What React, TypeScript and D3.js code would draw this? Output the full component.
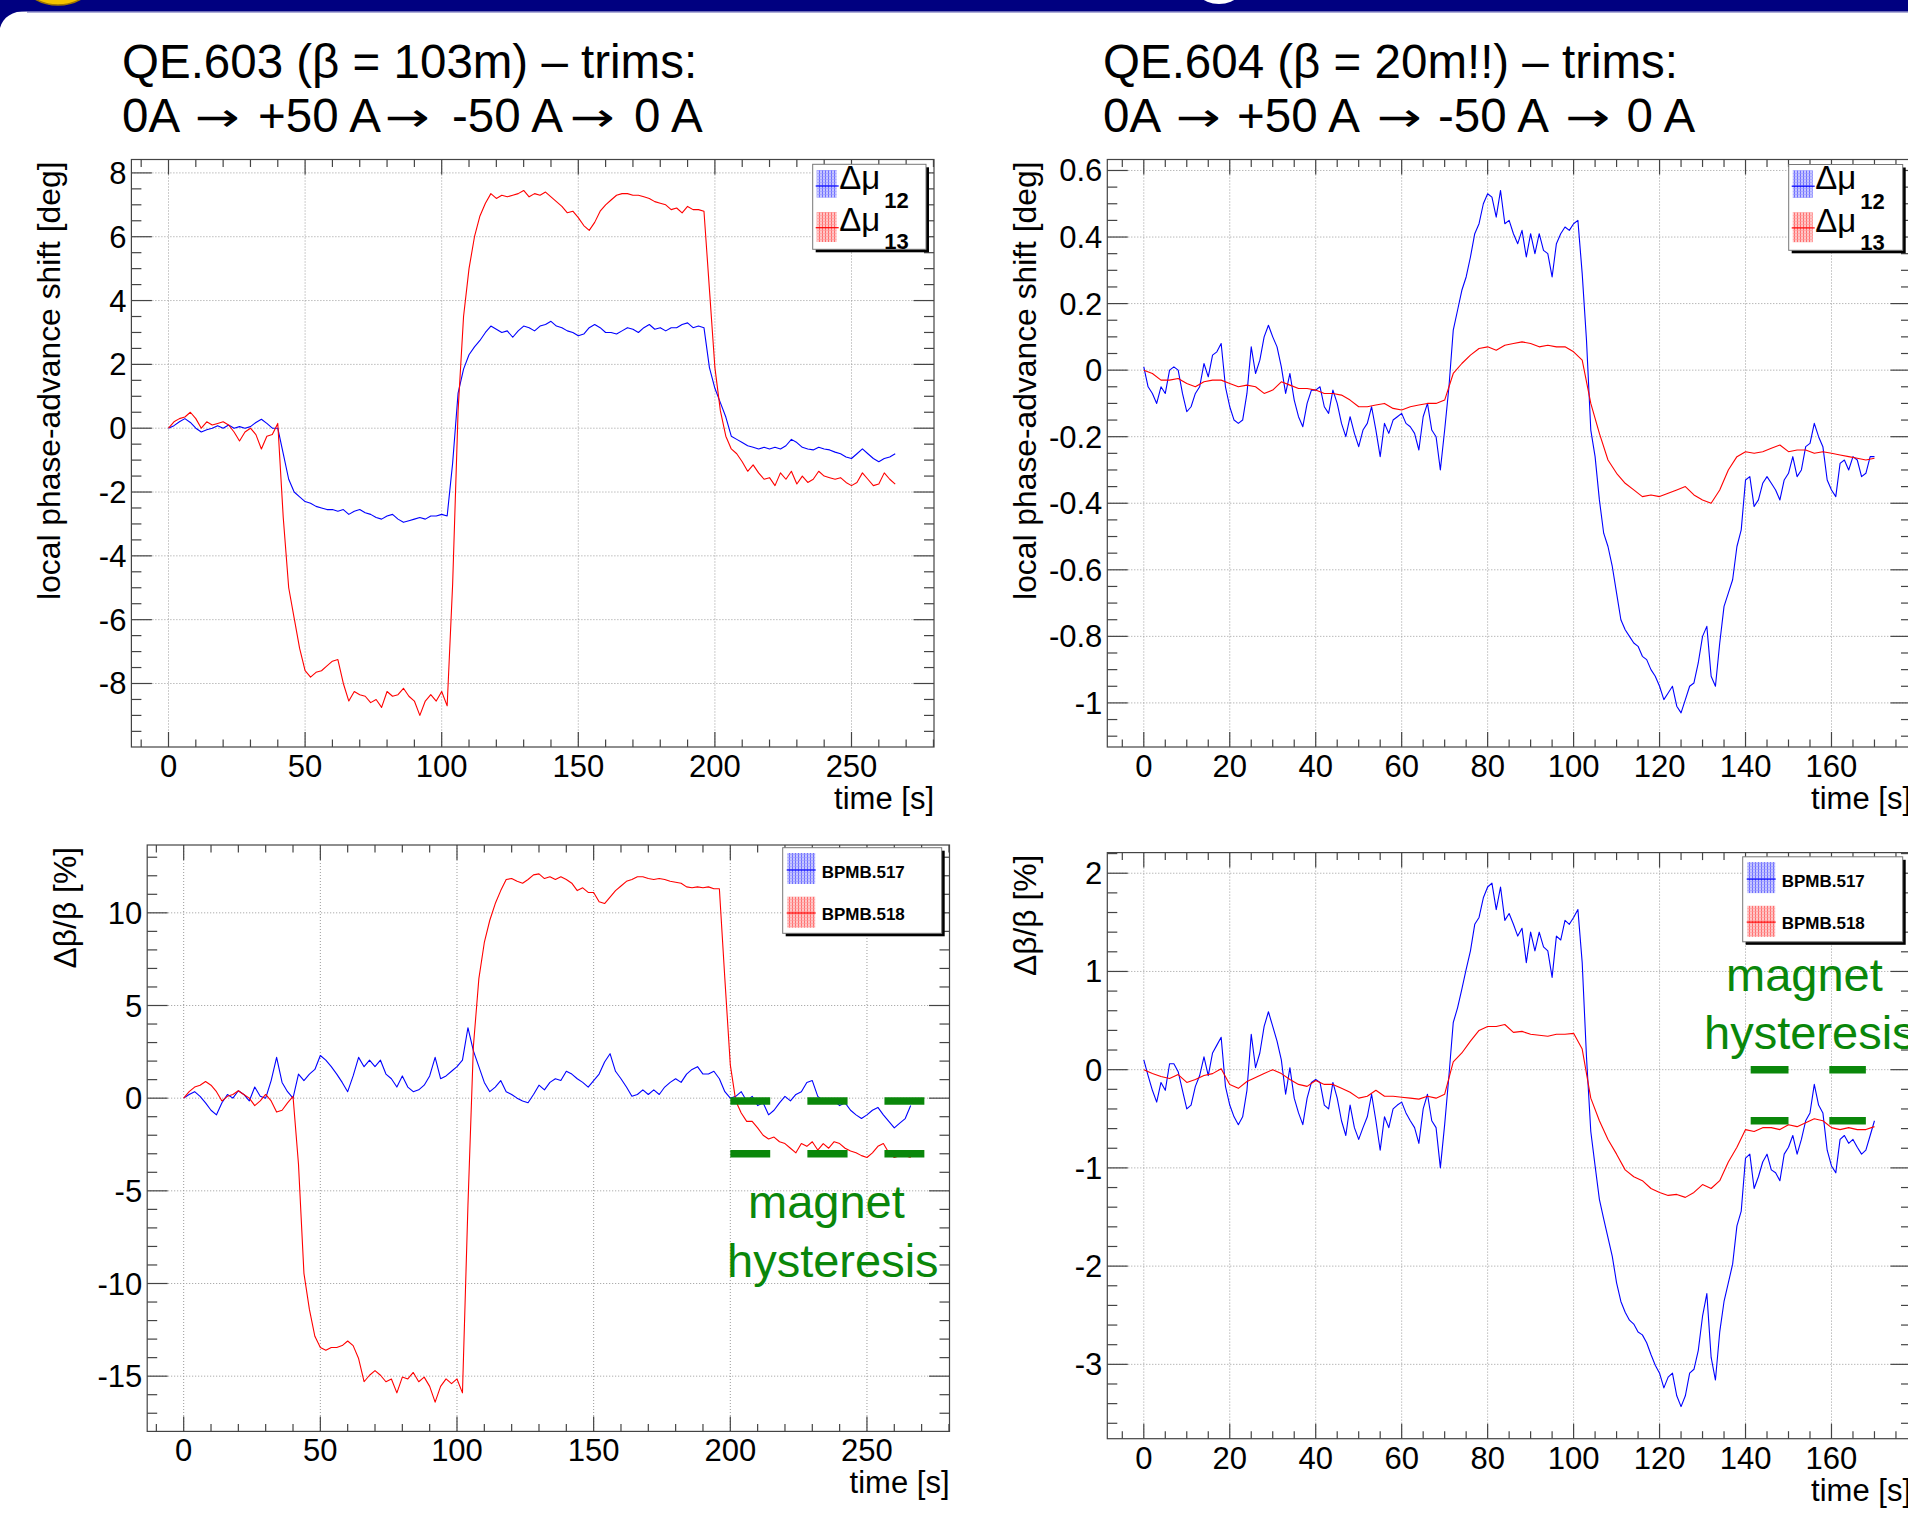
import React from 'react';
import * as d3 from 'd3';

const FONT = "'Liberation Sans', Arial, Helvetica, sans-serif";
const ARROW_FONT = "'DejaVu Sans', sans-serif";

// ---------------- data ----------------
// left panels: one sample every 2 s (t = 0 .. 266 s)
const LEFT_STEP = 2;
// right panels: blue every 1 s, red every 2 s (t = 0 .. 170 s)
const RIGHT_STEP_BLUE = 1;
const RIGHT_STEP_RED = 2;

const qe603Mu12 = [
  0, 0.08, 0.2, 0.3, 0.18, 0, -0.12, -0.05, 0, 0.08,
  0, 0.1, 0, 0.05, 0, 0.05, 0.18, 0.28, 0.15, 0,
  0, -0.8, -1.6, -2.0, -2.15, -2.3, -2.35, -2.45, -2.5, -2.55,
  -2.55, -2.6, -2.55, -2.7, -2.6, -2.55, -2.65, -2.7, -2.8, -2.85,
  -2.75, -2.7, -2.85, -2.95, -2.9, -2.85, -2.8, -2.85, -2.75, -2.75,
  -2.7, -2.75, -1.1, 1.1, 1.85, 2.3, 2.55, 2.75, 3.0, 3.2,
  3.1, 3.0, 3.05, 2.85, 3.05, 3.2, 3.15, 3.05, 3.2, 3.25,
  3.35, 3.2, 3.15, 3.05, 3.0, 2.9, 2.95, 3.15, 3.25, 3.15,
  3.0, 3.0, 2.95, 3.05, 3.15, 3.1, 3.0, 3.15, 3.25, 3.1,
  3.15, 3.05, 3.15, 3.15, 3.25, 3.3, 3.15, 3.2, 3.15, 1.9,
  1.25, 0.8, 0.35, -0.25, -0.35, -0.45, -0.55, -0.6, -0.65, -0.6,
  -0.65, -0.6, -0.65, -0.55, -0.35, -0.45, -0.6, -0.65, -0.68, -0.6,
  -0.65, -0.68, -0.75, -0.8, -0.9, -0.95, -0.8, -0.65, -0.8, -0.95,
  -1.05, -0.95, -0.9, -0.8,
];
const qe603Mu13 = [
  0, 0.2, 0.3, 0.35, 0.5, 0.3, 0, 0.2, 0.1, 0.15,
  0.2, 0.1, -0.12, -0.4, -0.12, 0, -0.2, -0.65, -0.25, -0.2,
  0.15, -2.8, -5.0, -5.95, -6.9, -7.6, -7.8, -7.65, -7.6, -7.45,
  -7.3, -7.25, -8.0, -8.55, -8.25, -8.35, -8.4, -8.6, -8.5, -8.75,
  -8.25, -8.4, -8.35, -8.15, -8.4, -8.55, -9.0, -8.55, -8.35, -8.55,
  -8.25, -8.7, -4.9, 0.55, 3.5, 5.0, 6.0, 6.65, 7.05, 7.35,
  7.2, 7.3, 7.25, 7.3, 7.35, 7.45, 7.25, 7.35, 7.3, 7.4,
  7.25, 7.1, 6.95, 6.75, 6.8, 6.6, 6.35, 6.2, 6.45, 6.8,
  7.0, 7.15, 7.3, 7.35, 7.35, 7.3, 7.3, 7.25, 7.2, 7.1,
  7.05, 7.0, 6.85, 6.9, 6.75, 6.95, 6.85, 6.85, 6.8, 4.35,
  1.9, 0.55, -0.25, -0.65, -0.8, -1.05, -1.35, -1.15, -1.4, -1.6,
  -1.55, -1.8, -1.4, -1.6, -1.35, -1.75, -1.5, -1.7, -1.6, -1.35,
  -1.5, -1.55, -1.6, -1.55, -1.7, -1.8, -1.7, -1.4, -1.6, -1.8,
  -1.75, -1.4, -1.6, -1.75,
];

const qe604Mu12 = [
  0.01, -0.05, -0.07, -0.1, -0.05, -0.07, 0.0, 0.01, 0.0, -0.07,
  -0.125, -0.11, -0.07, -0.05, 0.02, -0.02, 0.045, 0.055, 0.08, -0.05,
  -0.11, -0.15, -0.16, -0.15, -0.07, 0.07, -0.01, 0.03, 0.1, 0.135,
  0.1, 0.07, 0.01, -0.07, -0.01, -0.09, -0.14, -0.17, -0.1, -0.06,
  -0.06, -0.05, -0.11, -0.13, -0.06, -0.1, -0.16, -0.2, -0.14, -0.19,
  -0.23, -0.18, -0.16, -0.11, -0.18, -0.26, -0.16, -0.19, -0.15, -0.14,
  -0.13, -0.16, -0.17, -0.19, -0.24, -0.14, -0.1, -0.18, -0.2, -0.3,
  -0.18, -0.05, 0.12, 0.18, 0.24, 0.28, 0.34, 0.41, 0.44, 0.5,
  0.53, 0.52, 0.46, 0.54, 0.44, 0.45, 0.41, 0.38, 0.42, 0.34,
  0.41, 0.35, 0.41, 0.36, 0.35, 0.28, 0.38, 0.41, 0.43, 0.42,
  0.44, 0.45, 0.29, 0.09, -0.18, -0.26, -0.39, -0.49, -0.53, -0.59,
  -0.67, -0.75, -0.78, -0.8, -0.82, -0.83, -0.86, -0.87, -0.9, -0.92,
  -0.95, -0.99, -0.97, -0.95, -1.01, -1.03, -0.99, -0.95, -0.94, -0.88,
  -0.8, -0.77, -0.92, -0.95, -0.82, -0.71, -0.67, -0.63, -0.53, -0.48,
  -0.33, -0.32, -0.41, -0.39, -0.34, -0.32, -0.34, -0.36, -0.39, -0.33,
  -0.31, -0.26, -0.32, -0.3, -0.23, -0.22, -0.16, -0.2, -0.23, -0.33,
  -0.36, -0.38, -0.28, -0.27, -0.3, -0.26, -0.27, -0.32, -0.31, -0.26,
  -0.26,
];
const qe604Mu13 = [
  0, -0.01, -0.03, -0.03, -0.025, -0.04, -0.05, -0.035, -0.03, -0.03,
  -0.04, -0.05, -0.045, -0.05, -0.07, -0.06, -0.035, -0.045, -0.055, -0.055,
  -0.06, -0.07, -0.07, -0.075, -0.09, -0.11, -0.11, -0.105, -0.1, -0.115,
  -0.12, -0.11, -0.105, -0.1, -0.1, -0.09, -0.01, 0.02, 0.045, 0.065,
  0.07, 0.06, 0.075, 0.08, 0.085, 0.08, 0.07, 0.075, 0.07, 0.07,
  0.055, 0.03, -0.1, -0.19, -0.27, -0.31, -0.34, -0.36, -0.38, -0.375,
  -0.38, -0.37, -0.36, -0.35, -0.375, -0.39, -0.4, -0.36, -0.3, -0.26,
  -0.245, -0.25, -0.245, -0.235, -0.225, -0.245, -0.24, -0.24, -0.25, -0.245,
  -0.25, -0.255, -0.26, -0.265, -0.27, -0.265,
];

const qe603Bpm517 = [
  0, 0.2, 0.35, 0.1, -0.25, -0.65, -0.9, -0.25, 0.2, 0,
  0.4, 0.2, -0.15, 0.6, 0.1, 0, 0.95, 2.2, 0.85, 0.35,
  0, 1.3, 0.95, 1.3, 1.55, 2.3, 2.05, 1.7, 1.3, 0.85,
  0.35, 1.2, 2.2, 1.7, 2.05, 1.7, 2.05, 1.3, 1.05, 0.6,
  1.2, 0.6, 0.35, 0.45, 0.7, 1.2, 2.2, 1.05, 1.2, 1.45,
  1.7, 2.05, 3.8, 2.55, 1.7, 0.85, 0.35, 0.6, 0.95, 0.35,
  0.2, 0, -0.15, -0.25, 0.2, 0.7, 0.45, 0.85, 1.05, 0.95,
  1.45, 1.3, 1.05, 0.85, 0.6, 0.95, 1.3, 1.95, 2.4, 1.45,
  1.05, 0.6, 0.1, 0.2, 0.45, 0.2, 0.45, 0.2, 0.6, 0.85,
  1.05, 0.85, 1.3, 1.55, 1.7, 1.3, 1.3, 1.45, 1.05, 0.35,
  0, 0.1, 0.35, -0.15, 0.1, -0.4, -0.25, -0.9, -0.65, -0.25,
  0.1, -0.15, 0.2, 0.35, 0.85, 0.95, 0.1, -0.15, -0.25, -0.15,
  -0.4, -0.25, -0.65, -0.9, -1.1, -0.9, -0.65, -0.5, -0.9, -1.25,
  -1.6, -1.35, -1.1, -0.4,
];
const qe603Bpm518 = [
  0, 0.35, 0.6, 0.7, 0.9, 0.7, 0.35, -0.15, 0.1, 0.2,
  0.4, 0.2, 0, -0.4, -0.15, 0.2, -0.15, -0.75, -0.65, -0.25,
  0.1, -3.55, -9.45, -11.4, -12.85, -13.45, -13.6, -13.45, -13.45, -13.35,
  -13.1, -13.35, -14.05, -15.3, -14.95, -14.7, -14.95, -15.3, -15.15, -15.9,
  -15.05, -15.15, -14.8, -15.3, -15.05, -15.55, -16.4, -15.55, -15.15, -15.4,
  -15.15, -15.9, -5.8, 2.8, 6.45, 8.4, 9.6, 10.5, 11.2, 11.8,
  11.85, 11.7, 11.6, 11.8, 12.05, 12.1, 11.85, 11.95, 11.8, 11.95,
  11.8, 11.6, 11.2, 11.35, 11.1, 11.1, 10.6, 10.5, 10.85, 11.2,
  11.45, 11.7, 11.8, 11.95, 11.95, 11.85, 11.8, 11.85, 11.8, 11.7,
  11.65, 11.6, 11.4, 11.35, 11.4, 11.35, 11.4, 11.3, 11.3, 6.45,
  1.8, -0.15, -0.8, -1.25, -1.25, -1.6, -2.0, -2.2, -2.1, -2.35,
  -2.45, -2.7, -2.95, -2.45, -2.6, -2.35, -2.8, -2.45, -2.7, -2.35,
  -2.45, -2.7, -2.85, -2.95, -3.1, -3.2, -2.95, -2.6, -2.45, -2.95,
  -3.2, -3.1, -3.1, -3.2,
];

const qe604Bpm517 = [
  0.1, -0.06, -0.21, -0.33, -0.13, -0.21, 0.06, 0.06, -0.02, -0.21,
  -0.4, -0.36, -0.17, -0.06, 0.13, -0.06, 0.17, 0.25, 0.33, -0.17,
  -0.36, -0.48, -0.56, -0.48, -0.21, 0.36, 0.02, 0.17, 0.44, 0.59,
  0.44, 0.29, 0.1, -0.25, 0.02, -0.29, -0.44, -0.56, -0.29, -0.13,
  -0.1, -0.13, -0.36, -0.4, -0.13, -0.29, -0.52, -0.67, -0.36, -0.59,
  -0.71, -0.59, -0.48, -0.25, -0.52, -0.82, -0.48, -0.59, -0.4, -0.36,
  -0.33, -0.44, -0.52, -0.59, -0.75, -0.4, -0.25, -0.52, -0.59, -1.0,
  -0.56, -0.06, 0.48, 0.63, 0.82, 1.02, 1.21, 1.48, 1.55, 1.75,
  1.86, 1.9, 1.63, 1.86, 1.52, 1.59, 1.48, 1.36, 1.44, 1.09,
  1.4, 1.21, 1.4, 1.25, 1.21, 0.94, 1.36, 1.32, 1.52, 1.48,
  1.55, 1.63, 1.09, 0.13, -0.63, -0.98, -1.32, -1.52, -1.71, -1.9,
  -2.17, -2.36, -2.47, -2.55, -2.59, -2.67, -2.7, -2.78, -2.9, -3.01,
  -3.09, -3.24, -3.13, -3.09, -3.32, -3.43, -3.32, -3.09, -3.05, -2.86,
  -2.51, -2.28, -2.93, -3.16, -2.67, -2.36, -2.17, -1.98, -1.59, -1.44,
  -0.9, -0.86, -1.21, -1.09, -0.94, -0.86, -1.02, -1.05, -1.13, -0.86,
  -0.79, -0.67, -0.86, -0.71, -0.52, -0.44, -0.15, -0.36, -0.44, -0.82,
  -0.98, -1.05, -0.71, -0.67, -0.75, -0.71, -0.79, -0.86, -0.82, -0.67,
  -0.52,
];
const qe604Bpm518 = [
  0, -0.04, -0.07, -0.09, -0.05, -0.13, -0.1, -0.06, -0.04, 0.01,
  -0.15, -0.19, -0.12, -0.08, -0.04, 0, -0.04, -0.1, -0.15, -0.17,
  -0.11, -0.15, -0.15, -0.19, -0.23, -0.29, -0.27, -0.21, -0.27, -0.27,
  -0.28, -0.29, -0.3, -0.27, -0.29, -0.25, 0.08, 0.17, 0.29, 0.4,
  0.44, 0.44, 0.46, 0.38, 0.39, 0.36, 0.35, 0.34, 0.36, 0.36,
  0.37, 0.21, -0.29, -0.52, -0.71, -0.86, -1.02, -1.09, -1.13, -1.21,
  -1.25, -1.28, -1.27, -1.3, -1.25, -1.17, -1.21, -1.13, -0.94, -0.79,
  -0.61, -0.63, -0.59, -0.59, -0.61, -0.56, -0.58, -0.54, -0.5, -0.52,
  -0.59, -0.61, -0.59, -0.61, -0.61, -0.58,
];

// tick values
const leftXTicks = [0, 50, 100, 150, 200, 250];
const rightXTicks = [0, 20, 40, 60, 80, 100, 120, 140, 160];
const p1YTicks = [-8, -6, -4, -2, 0, 2, 4, 6, 8];
const p2YTicks = [-1, -0.8, -0.6, -0.4, -0.2, 0, 0.2, 0.4, 0.6];
const p3YTicks = [-15, -10, -5, 0, 5, 10];
const p4YTicks = [-3, -2, -1, 0, 1, 2];

// hysteresis annotation (data units)
const p3HystLevels = [-0.15, -3];
const p3HystSegments = [[200, 214.6], [228.2, 242.9], [256.4, 271]];
const p4HystLevels = [0, -0.52];
const p4HystSegments = [[141.2, 150], [159.5, 168]];

// title texts
const leftTitle1 = 'QE.603 (β = 103m) – trims:';
const leftTitle2 = ['0A', '→', '+50 A', '→', '-50 A', '→', '0 A'];
const rightTitle1 = 'QE.604 (β = 20m!!) – trims:';
const rightTitle2 = ['0A', '→', '+50 A', '→', '-50 A', '→', '0 A'];

// ---------------- styles / layout ----------------
const BLUE = '#0000ff';
const RED = '#ff0000';
const GREEN = '#0a870a';
const AXIS = '#444';
// horizontal start of each part of the second title lines (px)
const leftTitle2X = [122, 195, 258, 385, 452, 570, 634];
const rightTitle2X = [1103, 1176, 1237, 1377, 1438, 1565.5, 1626.5];
const ARROW_W = 45;

type Frame = { x0: number; x1: number; y0: number; y1: number };
type Series = { values: number[]; step: number; color: string };
type LegendEntry = { label: string; sub?: string; color: string };

interface PanelProps {
  id: string;
  frame: Frame;
  xDomain: [number, number];
  yDomain: [number, number];
  xTicks: number[];
  xMinorStep: number;
  yTicks: number[];
  yMinorStep: number;
  series: Series[];
  yTitle: string;
  yTitleX: number;
  legendBox: { x: number; y: number; w: number; h: number };
  legendKind: 'mu' | 'bpm';
  legend: LegendEntry[];
  hyst?: { levels: number[]; segments: number[][] };
}

function minorRange(d: [number, number], step: number) {
  const start = Math.ceil(d[0] / step - 1e-9);
  const end = Math.floor(d[1] / step + 1e-9);
  return d3.range(start, end + 1).map((k) => k * step);
}

function Panel(p: PanelProps) {
  const f = p.frame;
  const x = d3.scaleLinear().domain(p.xDomain).range([f.x0, f.x1]);
  const y = d3.scaleLinear().domain(p.yDomain).range([f.y1, f.y0]);
  const xMinor = minorRange(p.xDomain, p.xMinorStep);
  const yMinor = minorRange(p.yDomain, p.yMinorStep);
  const X_MAJ = 15, X_MIN = 7.5, Y_MAJ = 20.5, Y_MIN = 10;
  const isMaj = (arr: number[], v: number) => arr.some((a) => Math.abs(a - v) < 1e-6);

  const mkLine = (s: Series) =>
    d3.line<number>().x((_, i) => x(i * s.step)).y((v) => y(v))(s.values) || '';

  const lb = p.legendBox;
  return (
    <g>
      <defs>
        <clipPath id={`clip-${p.id}`}>
          <rect x={f.x0} y={f.y0} width={f.x1 - f.x0} height={f.y1 - f.y0} />
        </clipPath>
      </defs>
      {/* grid */}
      <g stroke="#9a9a9a" strokeWidth={1} strokeDasharray="1 2">
        {p.xTicks.map((t) => (
          <line key={`gx${t}`} x1={x(t)} x2={x(t)} y1={f.y0} y2={f.y1} />
        ))}
        {p.yTicks.map((t) => (
          <line key={`gy${t}`} x1={f.x0} x2={f.x1} y1={y(t)} y2={y(t)} />
        ))}
      </g>
      {/* data */}
      <g clipPath={`url(#clip-${p.id})`} fill="none" strokeWidth={1.1} strokeLinejoin="round">
        {p.series.map((s, i) => (
          <path key={i} d={mkLine(s)} stroke={s.color} />
        ))}
      </g>
      {/* hysteresis marks */}
      {p.hyst && (
        <g stroke={GREEN} strokeWidth={7.5}>
          {p.hyst.levels.map((lv) =>
            p.hyst!.segments.map((sg, j) => (
              <line key={`h${lv}-${j}`} x1={x(sg[0])} x2={x(sg[1])} y1={y(lv)} y2={y(lv)} />
            ))
          )}
        </g>
      )}
      {/* frame & ticks */}
      <g stroke={AXIS} strokeWidth={1.2}>
        <rect x={f.x0} y={f.y0} width={f.x1 - f.x0} height={f.y1 - f.y0} fill="none" />
        {xMinor.map((t) => {
          const len = isMaj(p.xTicks, t) ? X_MAJ : X_MIN;
          return (
            <g key={`tx${t}`}>
              <line x1={x(t)} x2={x(t)} y1={f.y1} y2={f.y1 - len} />
              <line x1={x(t)} x2={x(t)} y1={f.y0} y2={f.y0 + len} />
            </g>
          );
        })}
        {yMinor.map((t) => {
          const len = isMaj(p.yTicks, t) ? Y_MAJ : Y_MIN;
          return (
            <g key={`ty${t}`}>
              <line x1={f.x0} x2={f.x0 + len} y1={y(t)} y2={y(t)} />
              <line x1={f.x1} x2={f.x1 - len} y1={y(t)} y2={y(t)} />
            </g>
          );
        })}
      </g>
      {/* tick labels */}
      <g fontFamily={FONT} fontSize={31} fill="#000">
        {p.xTicks.map((t) => (
          <text key={`lx${t}`} x={x(t)} y={f.y1 + 30} textAnchor="middle">
            {String(t)}
          </text>
        ))}
        {p.yTicks.map((t) => (
          <text key={`ly${t}`} x={f.x0 - 5} y={y(t) + 11} textAnchor="end">
            {String(t)}
          </text>
        ))}
        <text x={f.x1} y={f.y1 + 62} textAnchor="end">time [s]</text>
        <text
          transform={`translate(${p.yTitleX},${f.y0 + 2}) rotate(-90)`}
          textAnchor="end"
          fontSize={31.8}
        >
          {p.yTitle}
        </text>
      </g>
      {/* legend */}
      <g>
        <rect x={lb.x + 3} y={lb.y + 3} width={lb.w} height={lb.h} fill="#000" />
        <rect x={lb.x} y={lb.y} width={lb.w} height={lb.h} fill="#fff" stroke="#777" strokeWidth={1} />
        {p.legend.map((e, i) => {
          const pat = e.color === BLUE ? 'url(#hatchBlue)' : 'url(#hatchRed)';
          if (p.legendKind === 'mu') {
            const sy = lb.y + (i === 0 ? 5.7 : 47.7);
            const sh = i === 0 ? 27.7 : 30;
            const ly = lb.y + (i === 0 ? 21.7 : 63.4);
            const by = lb.y + (i === 0 ? 24.5 : 67);
            const sb = lb.y + (i === 0 ? 44 : 85);
            return (
              <g key={i}>
                <rect x={lb.x + 4} y={sy} width={20} height={sh} fill={pat} />
                <line x1={lb.x + 3} x2={lb.x + 26} y1={ly} y2={ly} stroke={e.color} strokeWidth={1.2} />
                <text x={lb.x + 26.5} y={by} fontFamily={FONT} fontSize={33} fill="#000">{e.label}</text>
                <text x={lb.x + 71.5} y={sb} fontFamily={FONT} fontSize={22} fontWeight="bold" fill="#000">{e.sub}</text>
              </g>
            );
          }
          const sy = lb.y + (i === 0 ? 5.3 : 49);
          const ly = lb.y + (i === 0 ? 22.3 : 65.3);
          const by = lb.y + (i === 0 ? 30 : 72.3);
          return (
            <g key={i}>
              <rect x={lb.x + 4.5} y={sy} width={28} height={31} fill={pat} />
              <line x1={lb.x + 4} x2={lb.x + 33} y1={ly} y2={ly} stroke={e.color} strokeWidth={1.2} />
              <text x={lb.x + 39} y={by} fontFamily={FONT} fontSize={17} fontWeight="bold" fill="#000">{e.label}</text>
            </g>
          );
        })}
      </g>
    </g>
  );
}

function TitleLine({ parts, xs, y }: { parts: string[]; xs: number[]; y: number }) {
  return (
    <g fill="#000">
      {parts.map((s, i) =>
        s === '→' ? (
          <text
            key={i}
            x={xs[i]}
            y={y - 1}
            fontFamily={ARROW_FONT}
            fontSize={40}
            textLength={ARROW_W}
            lengthAdjust="spacingAndGlyphs"
          >
            {s}
          </text>
        ) : (
          <text key={i} x={xs[i]} y={y} fontFamily={FONT} fontSize={47.5}>
            {s}
          </text>
        )
      )}
    </g>
  );
}

export default function App() {
  const f1: Frame = { x0: 131.4, x1: 934, y0: 159.5, y1: 747 };
  const f2: Frame = { x0: 1107.3, x1: 1911, y0: 159.5, y1: 747 };
  const f3: Frame = { x0: 147.2, x1: 949.5, y0: 845, y1: 1431.4 };
  const f4: Frame = { x0: 1107.3, x1: 1911, y0: 852.6, y1: 1438.7 };

  const muLegend: LegendEntry[] = [
    { label: 'Δμ', sub: '12', color: BLUE },
    { label: 'Δμ', sub: '13', color: RED },
  ];
  const bpmLegend: LegendEntry[] = [
    { label: 'BPMB.517', color: BLUE },
    { label: 'BPMB.518', color: RED },
  ];

  return (
    <div style={{ position: 'absolute', left: 0, top: 0, width: 1908, height: 1530, background: '#fff' }}>
      <svg width={1908} height={1530} xmlns="http://www.w3.org/2000/svg" style={{ display: 'block' }}>
        <defs>
          <pattern id="hatchBlue" width="3" height="3" patternUnits="userSpaceOnUse">
            <rect width="3" height="3" fill="#c6c6ff" />
            <rect width="1" height="3" fill="#6f6fff" />
            <rect y="2" width="3" height="0.6" fill="#9a9aff" />
          </pattern>
          <pattern id="hatchRed" width="3" height="3" patternUnits="userSpaceOnUse">
            <rect width="3" height="3" fill="#ffc6c6" />
            <rect width="1" height="3" fill="#ff6f6f" />
            <rect y="2" width="3" height="0.6" fill="#ff9a9a" />
          </pattern>
        </defs>
        <rect x={0} y={0} width={1908} height={1530} fill="#fff" />
        {/* slide banner */}
        <rect x={0} y={0} width={1908} height={11.5} fill="#000080" />
        <path d="M0,11 L27,11 C12,11 3,17 0,28 Z" fill="#000080" />
        <line x1={27} x2={1908} y1={12} y2={12} stroke="#5a5ab0" strokeWidth={1} />
        <circle cx={58} cy={-41.6} r={46.6} fill="#f5c400" stroke="#a07800" strokeWidth={1.5} />
        <circle cx={1219} cy={-26.9} r={30.9} fill="#ffffff" />

        {/* titles */}
        <text x={122} y={78} fontFamily={FONT} fontSize={47.5} fill="#000">{leftTitle1}</text>
        <TitleLine parts={leftTitle2} xs={leftTitle2X} y={132} />
        <text x={1103} y={78} fontFamily={FONT} fontSize={47.5} fill="#000">{rightTitle1}</text>
        <TitleLine parts={rightTitle2} xs={rightTitle2X} y={132} />

        <Panel
          id="p1"
          frame={f1}
          xDomain={[-13.58, 280.2]}
          yDomain={[-9.99, 8.42]}
          xTicks={leftXTicks}
          xMinorStep={10}
          yTicks={p1YTicks}
          yMinorStep={0.5}
          series={[
            { values: qe603Mu12, step: LEFT_STEP, color: BLUE },
            { values: qe603Mu13, step: LEFT_STEP, color: RED },
          ]}
          yTitle="local phase-advance shift [deg]"
          yTitleX={60}
          legendBox={{ x: 812.7, y: 164.3, w: 113.3, h: 85 }}
          legendKind="mu"
          legend={muLegend}
        />
        <Panel
          id="p2"
          frame={f2}
          xDomain={[-8.49, 178.5]}
          yDomain={[-1.1325, 0.633]}
          xTicks={rightXTicks}
          xMinorStep={5}
          yTicks={p2YTicks}
          yMinorStep={0.05}
          series={[
            { values: qe604Mu12, step: RIGHT_STEP_BLUE, color: BLUE },
            { values: qe604Mu13, step: RIGHT_STEP_RED, color: RED },
          ]}
          yTitle="local phase-advance shift [deg]"
          yTitleX={1036}
          legendBox={{ x: 1788.7, y: 164.5, w: 114, h: 85.8 }}
          legendKind="mu"
          legend={muLegend}
        />
        <Panel
          id="p3"
          frame={f3}
          xDomain={[-13.35, 280.2]}
          yDomain={[-17.98, 13.66]}
          xTicks={leftXTicks}
          xMinorStep={10}
          yTicks={p3YTicks}
          yMinorStep={1}
          series={[
            { values: qe603Bpm517, step: LEFT_STEP, color: BLUE },
            { values: qe603Bpm518, step: LEFT_STEP, color: RED },
          ]}
          yTitle="Δβ/β [%]"
          yTitleX={76}
          legendBox={{ x: 782.7, y: 847.7, w: 159, h: 85.6 }}
          legendKind="bpm"
          legend={bpmLegend}
          hyst={{ levels: p3HystLevels, segments: p3HystSegments }}
        />
        <Panel
          id="p4"
          frame={f4}
          xDomain={[-8.49, 178.5]}
          yDomain={[-3.757, 2.21]}
          xTicks={rightXTicks}
          xMinorStep={5}
          yTicks={p4YTicks}
          yMinorStep={0.2}
          series={[
            { values: qe604Bpm517, step: RIGHT_STEP_BLUE, color: BLUE },
            { values: qe604Bpm518, step: RIGHT_STEP_RED, color: RED },
          ]}
          yTitle="Δβ/β [%]"
          yTitleX={1036}
          legendBox={{ x: 1742.7, y: 856.8, w: 160, h: 85 }}
          legendKind="bpm"
          legend={bpmLegend}
          hyst={{ levels: p4HystLevels, segments: p4HystSegments }}
        />

        {/* annotation text */}
        <g fontFamily={FONT} fontSize={47} fill={GREEN}>
          <text x={748} y={1218}>magnet</text>
          <text x={727} y={1277}>hysteresis</text>
          <text x={1726} y={991}>magnet</text>
          <text x={1704} y={1049}>hysteresis</text>
        </g>
      </svg>
    </div>
  );
}
